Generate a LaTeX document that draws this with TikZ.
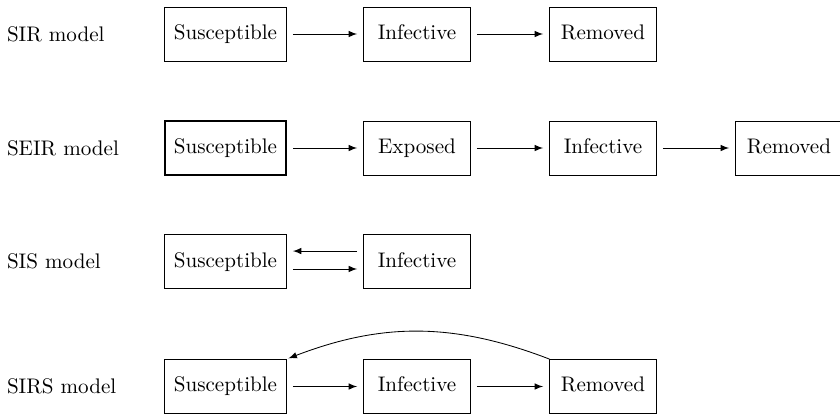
\documentclass[tikz,border=0pt]{standalone}
\usepackage{tikz}
\usetikzlibrary{arrows}

\begin{document}
\begin{tikzpicture}
\tikzstyle{box}=[draw, minimum width = 1.77cm, minimum height = 0.9cm, text height = 1.6ex, text depth = 0.4ex]
\tikzstyle{wide}=[minimum width = 2.02cm]
\tikzstyle{arrow}=[-latex, shorten >=3pt, shorten <=3pt]
\tikzstyle{modellabel}=[anchor = west, inner sep = 0pt]
\useasboundingbox (0,0) rectangle (14,-6.917);
% SIR
\node (L1) [modellabel] at (0.11,-0.567) {SIR model};
\node (S1) [box, wide] at (3.758,-0.567) {Susceptible};
\node (I1) [box] at (6.95,-0.567) {Infective};
\node (R1) [box] at (10.05,-0.567) {Removed};
\draw [arrow] (S1) -- (I1);
\draw [arrow] (I1) -- (R1);
% SEIR
\node (L2) [modellabel] at (0.11,-2.467) {SEIR model};
\node (S2) [box, wide, thick] at (3.758,-2.467) {Susceptible};
\node (E2) [box] at (6.95,-2.467) {Exposed};
\node (I2) [box] at (10.05,-2.467) {Infective};
\node (R2) [box] at (13.15,-2.467) {Removed};
\draw [arrow] (S2) -- (E2);
\draw [arrow] (E2) -- (I2);
\draw [arrow] (I2) -- (R2);
% SIS
\node (L3) [modellabel] at (0.11,-4.36) {SIS model};
\node (S3) [box, wide] at (3.758,-4.36) {Susceptible};
\node (I3) [box] at (6.95,-4.36) {Infective};
\draw [arrow] ([yshift=5pt]I3.west) -- ([yshift=5pt]S3.east);
\draw [arrow] ([yshift=-3.5pt]S3.east) -- ([yshift=-3.5pt]I3.west);
% SIRS
\node (L4) [modellabel] at (0.11,-6.442) {SIRS model};
\node (S4) [box, wide] at (3.758,-6.442) {Susceptible};
\node (I4) [box] at (6.95,-6.442) {Infective};
\node (R4) [box] at (10.05,-6.442) {Removed};
\draw [arrow] (S4) -- (I4);
\draw [arrow] (I4) -- (R4);
\draw [-latex, shorten >=1pt] (R4.north west) to[bend right=21] (S4.north east);
\end{tikzpicture}
\end{document}
